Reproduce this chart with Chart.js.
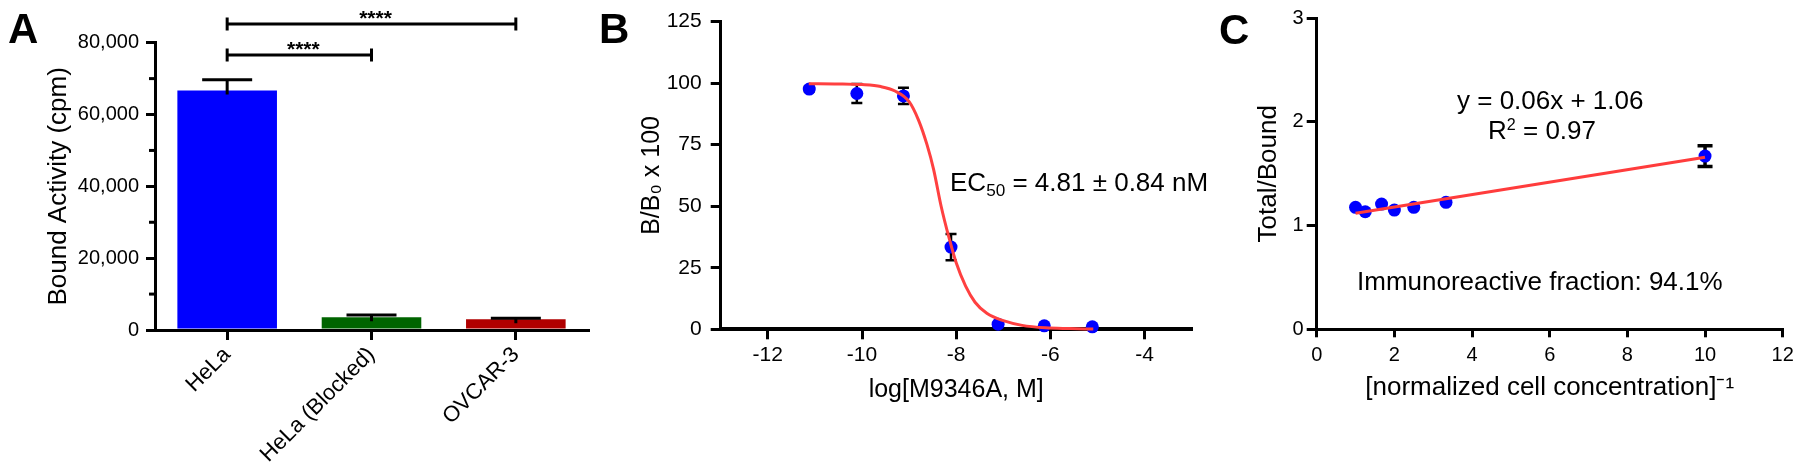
<!DOCTYPE html>
<html>
<head>
<meta charset="utf-8">
<script src="https://cdn.jsdelivr.net/npm/chart.js@4.4.1/dist/chart.umd.min.js"></script>
<style>
  body { margin: 0; background: #fff; width: 1800px; height: 468px; overflow: hidden; position: relative;
         font-family: "Liberation Sans", Arial, sans-serif; color: #000; }
  .panel { position: absolute; top: 0; width: 600px; height: 468px; }
  .lbl { position: absolute; line-height: 1; white-space: nowrap; }
  .letter { font-weight: bold; font-size: 42px; }
  .note { font-size: 26px; }
  .note sub { font-size: 0.66em; vertical-align: -0.28em; line-height: 0; }
  .note sup { font-size: 0.62em; vertical-align: 0.55em; line-height: 0; }
</style>
</head>
<body>
<div class="panel" style="left:0"><canvas id="chartA" width="600" height="468"></canvas></div>
<div class="panel" style="left:600px"><canvas id="chartB" width="600" height="468"></canvas></div>
<div class="panel" style="left:1200px"><canvas id="chartC" width="600" height="468"></canvas></div>

<div class="lbl letter" style="left:8px;top:7.5px">A</div>
<div class="lbl letter" style="left:599px;top:7.5px">B</div>
<div class="lbl letter" style="left:1219px;top:9px">C</div>
<div class="lbl note" style="left:950px;top:168.6px">EC<sub>50</sub> = 4.81 ± 0.84 nM</div>
<div class="lbl note" style="left:1457px;top:86.6px">y = 0.06x + 1.06</div>
<div class="lbl note" style="left:1488px;top:116.6px">R<sup>2</sup> = 0.97</div>
<div class="lbl note" style="left:1357px;top:268.3px">Immunoreactive fraction: 94.1%</div>

<script>
const FONT = "Liberation Sans";

// panel A
const cellLines = ["HeLa", "HeLa (Blocked)", "OVCAR-3"];
const boundActivity = [66700, 3540, 2980];
const boundActivityErr = [3000, 640, 280];
const barColors = ["#0000ff", "#006400", "#b00000"];
const yTicksA = [0, 20000, 40000, 60000, 80000];
const minorTicksA = [10000, 30000, 50000, 70000];
const sigPairs = [[0, 2], [0, 1]];
const sigLabels = ["****", "****"];

// panel B
const logConc = [-11.12, -10.11, -9.12, -8.11, -7.11, -6.13, -5.11];
const bindingPct = [97.6, 95.8, 94.8, 33.4, 2.1, 1.4, 1.0];
const bindingErr = [1.0, 3.9, 3.3, 5.3, 0.5, 0.5, 0.5];
const fitX = [-11.13, -10.5, -10.0, -9.6, -9.3, -9.0, -8.8, -8.62, -8.48, -8.32, -8.15, -8.0, -7.8, -7.6, -7.35, -7.0, -6.6, -6.1, -5.6, -5.09];
const fitY = [99.8, 99.7, 99.4, 98.6, 96.8, 92.5, 85.0, 75.0, 65.0, 50.0, 37.0, 27.0, 17.5, 11.0, 6.5, 3.5, 1.6, 0.6, 0.3, 0.1];
const xTicksB = [-12, -10, -8, -6, -4];
const yTicksB = [0, 25, 50, 75, 100, 125];

// panel C
const invConc = [1, 1.25, 1.67, 2, 2.5, 3.33, 10];
const totalBound = [1.177, 1.134, 1.208, 1.150, 1.177, 1.225, 1.671];
const totalBoundErr = [0, 0, 0, 0, 0, 0, 0.10];
const lineX = [1, 10];
const lineY = [1.12, 1.66];
const xTicksC = [0, 2, 4, 6, 8, 10, 12];
const yTicksC = [0, 1, 2, 3];

function fmtThousands(v) {
  return String(v).replace(/\B(?=(\d{3})+(?!\d))/g, ",");
}

function drawErr(chart, o) {
  const ctx = chart.ctx;
  const meta = chart.getDatasetMeta(o.dataset);
  const ys = chart.scales.y;
  const ds = chart.data.datasets[o.dataset];
  ctx.save();
  ctx.strokeStyle = "#000";
  ctx.lineWidth = o.width;
  meta.data.forEach((el, i) => {
    if (!o.err[i]) return;
    const d = ds.data[i];
    const v = typeof d === "object" ? d.y : d;
    const top = ys.getPixelForValue(v + o.err[i]);
    const bot = o.oneSided ? ys.getPixelForValue(v) + o.stemIn : ys.getPixelForValue(v - o.err[i]);
    ctx.beginPath();
    ctx.moveTo(el.x, top);
    ctx.lineTo(el.x, bot);
    ctx.moveTo(el.x - o.cap / 2, top);
    ctx.lineTo(el.x + o.cap / 2, top);
    if (!o.oneSided) {
      ctx.moveTo(el.x - o.cap / 2, bot);
      ctx.lineTo(el.x + o.cap / 2, bot);
    }
    ctx.stroke();
  });
  ctx.restore();
}

const errPlugin = {
  id: "errbars",
  beforeDatasetsDraw(chart, args, o) { if (!o.above) drawErr(chart, o); },
  afterDatasetsDraw(chart, args, o) { if (o.above) drawErr(chart, o); }
};

const sigPlugin = {
  id: "sig",
  afterDraw(chart) {
    const ctx = chart.ctx, xs = chart.scales.x;
    const rows = [24, 55];
    ctx.save();
    ctx.strokeStyle = "#000";
    ctx.fillStyle = "#000";
    ctx.lineWidth = 3;
    sigPairs.forEach((p, k) => {
      const x1 = xs.getPixelForValue(p[0]);
      const x2 = xs.getPixelForValue(p[1]);
      const y = rows[k];
      ctx.beginPath();
      ctx.moveTo(x1, y); ctx.lineTo(x2, y);
      ctx.moveTo(x1, y - 6.5); ctx.lineTo(x1, y + 6.5);
      ctx.moveTo(x2, y - 6.5); ctx.lineTo(x2, y + 6.5);
      ctx.stroke();
      ctx.font = "bold 21px " + FONT;
      ctx.textAlign = "center";
      ctx.textBaseline = "alphabetic";
      ctx.fillText(sigLabels[k], (x1 + x2) / 2 + 4, y + 1);
    });
    ctx.restore();
  }
};

const minorPlugin = {
  id: "minor",
  afterDraw(chart) {
    const ctx = chart.ctx, ys = chart.scales.y;
    ctx.save();
    ctx.strokeStyle = "#000";
    ctx.lineWidth = 3;
    minorTicksA.forEach(v => {
      const y = ys.getPixelForValue(v);
      ctx.beginPath();
      ctx.moveTo(ys.right - 6, y);
      ctx.lineTo(ys.right, y);
      ctx.stroke();
    });
    ctx.restore();
  }
};

function setTicks(list) {
  return s => { s.ticks = list.map(v => ({ value: v })); };
}

const base = {
  responsive: false,
  animation: false,
  devicePixelRatio: 1,
  events: []
};

// ---- A ----
new Chart(document.getElementById("chartA"), {
  type: "bar",
  data: {
    labels: cellLines,
    datasets: [{
      data: boundActivity,
      backgroundColor: barColors,
      barPercentage: 0.69,
      categoryPercentage: 1
    }]
  },
  options: {
    ...base,
    layout: { padding: { left: 0, right: 12, top: 42.7, bottom: 0 } },
    plugins: {
      legend: { display: false },
      tooltip: { enabled: false },
      errbars: { dataset: 0, err: boundActivityErr, above: true, oneSided: true, stemIn: 4, cap: 50, width: 3 }
    },
    scales: {
      x: {
        grid: { drawOnChartArea: false, offset: false, tickLength: 10, lineWidth: 3, color: "#000" },
        border: { color: "#000", width: 3 },
        ticks: { color: "#000", font: { family: FONT, size: 22 }, minRotation: 45, maxRotation: 45, padding: 2, autoSkip: false },
        afterFit: s => { s.height = 138; }
      },
      y: {
        min: 0, max: 80000,
        afterBuildTicks: setTicks(yTicksA),
        grid: { drawOnChartArea: false, tickLength: 9, lineWidth: 3, color: "#000" },
        border: { color: "#000", width: 3 },
        ticks: { color: "#000", font: { family: FONT, size: 20 }, padding: 7, callback: v => fmtThousands(v) },
        title: { display: true, text: "Bound Activity (cpm)", color: "#000", font: { family: FONT, size: 26 }, padding: { top: 43.4, bottom: 0 } },
        afterFit: s => { s.width = 155; }
      }
    }
  },
  plugins: [errPlugin, sigPlugin, minorPlugin]
});

// ---- B ----
new Chart(document.getElementById("chartB"), {
  type: "scatter",
  data: {
    datasets: [
      {
        type: "line",
        data: fitX.map((x, i) => ({ x: x, y: fitY[i] })),
        borderColor: "#ff4040",
        borderWidth: 3,
        pointRadius: 0,
        cubicInterpolationMode: "monotone",
        fill: false,
        clip: false,
        order: 0
      },
      {
        data: logConc.map((x, i) => ({ x: x, y: bindingPct[i] })),
        backgroundColor: "#0000ff",
        borderWidth: 0,
        pointRadius: 6.5,
        clip: false,
        order: 1
      }
    ]
  },
  options: {
    ...base,
    layout: { padding: { left: 0, right: 8.3, top: 16, bottom: 0 } },
    plugins: {
      legend: { display: false },
      tooltip: { enabled: false },
      errbars: { dataset: 1, err: bindingErr, above: false, oneSided: false, cap: 11, width: 2.5 }
    },
    scales: {
      x: {
        type: "linear", min: -13, max: -3,
        afterBuildTicks: setTicks(xTicksB),
        grid: { drawOnChartArea: false, tickLength: 10, lineWidth: 3, color: "#000" },
        border: { color: "#000", width: 4 },
        ticks: { color: "#000", font: { family: FONT, size: 21 }, padding: 3 },
        title: { display: true, text: "log[M9346A, M]", color: "#000", font: { family: FONT, size: 25 }, padding: { top: 0, bottom: 63 } },
        afterFit: s => { s.height = 138.7; }
      },
      y: {
        min: 0, max: 125,
        afterBuildTicks: setTicks(yTicksB),
        grid: { drawOnChartArea: false, tickLength: 10, lineWidth: 3, color: "#000" },
        border: { color: "#000", width: 3 },
        ticks: { color: "#000", font: { family: FONT, size: 21 }, padding: 9 },
        title: { display: true, text: "B/B\u2080 x 100", color: "#000", font: { family: FONT, size: 25 }, padding: { top: 36.7, bottom: 0 } },
        afterFit: s => { s.width = 120.7; }
      }
    }
  },
  plugins: [errPlugin]
});

// ---- C ----
new Chart(document.getElementById("chartC"), {
  type: "scatter",
  data: {
    datasets: [
      {
        type: "line",
        data: lineX.map((x, i) => ({ x: x, y: lineY[i] })),
        borderColor: "#ff3c3c",
        borderWidth: 3,
        pointRadius: 0,
        fill: false,
        order: 0
      },
      {
        data: invConc.map((x, i) => ({ x: x, y: totalBound[i] })),
        backgroundColor: "#0000ff",
        borderWidth: 0,
        pointRadius: 6.5,
        clip: false,
        order: 1
      }
    ]
  },
  options: {
    ...base,
    layout: { padding: { left: 0, right: 17.3, top: 18.3, bottom: 0 } },
    plugins: {
      legend: { display: false },
      tooltip: { enabled: false },
      errbars: { dataset: 1, err: totalBoundErr, above: false, oneSided: false, cap: 15, width: 3.5 }
    },
    scales: {
      x: {
        type: "linear", min: 0, max: 12,
        afterBuildTicks: setTicks(xTicksC),
        grid: { drawOnChartArea: false, tickLength: 8, lineWidth: 3, color: "#000" },
        border: { color: "#000", width: 3 },
        ticks: { color: "#000", font: { family: FONT, size: 20 }, padding: 5.7 },
        title: { display: true, text: "[normalized cell concentration]\u207B\u00B9", color: "#000", font: { family: FONT, size: 26 }, padding: { top: 0, bottom: 64.4 } },
        afterFit: s => { s.height = 138.7; }
      },
      y: {
        min: 0, max: 3,
        afterBuildTicks: setTicks(yTicksC),
        grid: { drawOnChartArea: false, tickLength: 10, lineWidth: 3, color: "#000" },
        border: { color: "#000", width: 3 },
        ticks: { color: "#000", font: { family: FONT, size: 20 }, padding: 3 },
        title: { display: true, text: "Total/Bound", color: "#000", font: { family: FONT, size: 26 }, padding: { top: 53.4, bottom: 0 } },
        afterFit: s => { s.width = 116.7; }
      }
    }
  },
  plugins: [errPlugin]
});
</script>
</body>
</html>
